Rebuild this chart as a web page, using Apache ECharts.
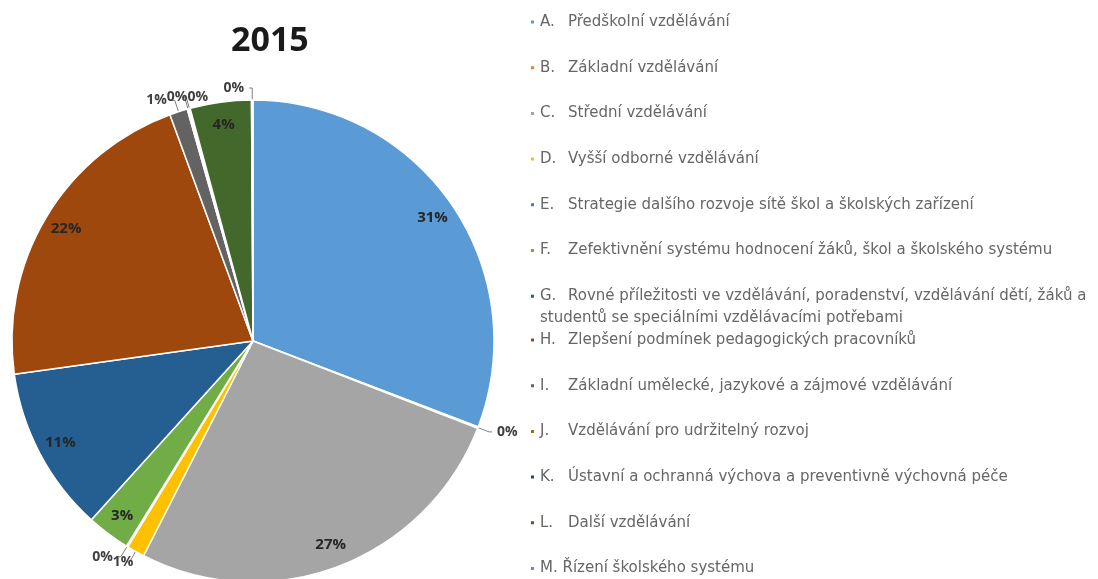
<!DOCTYPE html>
<html>
<head>
<meta charset="utf-8">
<script src="https://cdn.jsdelivr.net/npm/echarts@6/dist/echarts.min.js"></script>
<style>
  html, body { margin: 0; background: #fff; }
  #chart { width: 1098px; height: 579px; }
</style>
</head>
<body>
<div id="chart"></div>
<script>
// data (share of budget, %)
var letters = ['A.', 'B.', 'C.', 'D.', 'E.', 'F.', 'G.', 'H.', 'I.', 'J.', 'K.', 'L.', 'M.'];
var names = [
  'Předškolní vzdělávání',
  'Základní vzdělávání',
  'Střední vzdělávání',
  'Vyšší odborné vzdělávání',
  'Strategie dalšího rozvoje sítě škol a školských zařízení',
  'Zefektivnění systému hodnocení žáků, škol a školského systému',
  'Rovné příležitosti ve vzdělávání, poradenství, vzdělávání dětí, žáků a\nstudentů se speciálními vzdělávacími potřebami',
  'Zlepšení podmínek pedagogických pracovníků',
  'Základní umělecké, jazykové a zájmové vzdělávání',
  'Vzdělávání pro udržitelný rozvoj',
  'Ústavní a ochranná výchova a preventivně výchovná péče',
  'Další vzdělávání',
  'Řízení školského systému'
];
var values = [30.8, 0.1, 26.6, 1.2, 0.1, 2.9, 11.1, 21.6, 1.2, 0.1, 0.1, 4.1, 0.1];
var colors = ['#5b9bd5', '#ed7d31', '#a5a5a5', '#ffc000', '#4472c4', '#70ad47',
              '#255e91', '#9e480e', '#636363', '#997300', '#264478', '#43682b', '#698ed0'];

var keys = letters.map(function (l, i) { return l + ' ' + names[i]; });
var pct = function (v) { return Math.round(v) + '%'; };

var mainData = values.map(function (v, i) {
  var small = v < 2;
  return {
    name: keys[i],
    value: v,
    itemStyle: { color: colors[i] },
    label: { show: small },
    labelLine: { show: small }
  };
});
var innerLabelData = values.map(function (v, i) {
  return { name: keys[i], value: v, label: { show: v >= 2 } };
});

function legendText(key) {
  var letter = key.split(' ')[0];
  var rest = key.slice(letter.length + 1).split('\n');
  if (letter === 'M.') return '{t|M. ' + rest[0] + '}';
  var s = '{k|' + letter + '}{t|' + rest[0] + '}';
  for (var i = 1; i < rest.length; i++) s += '\n{t|' + rest[i] + '}';
  return s;
}

var legendFont = 'DejaVu Sans';
var lh = 22;
var legendTextStyle = {
  color: '#666',
  fontFamily: legendFont,
  fontSize: 15,
  lineHeight: lh,
  rich: {
    k: { width: 28, fontSize: 15, fontFamily: legendFont, color: '#666', lineHeight: lh },
    t: { fontSize: 15, fontFamily: legendFont, color: '#666', lineHeight: lh }
  }
};
function legendItems(from, to) {
  return keys.slice(from, to).map(function (k, j) {
    var item = { name: k, itemStyle: { color: colors[from + j] } };
    // the wrapped item keeps a one-line box so the next rows stay evenly spaced
    if (k.indexOf('\n') >= 0) item.textStyle = { height: lh };
    return item;
  });
}

var chart = echarts.init(document.getElementById('chart'));
chart.setOption({
  animation: false,
  title: {
    text: '2015',
    left: 231,
    top: 24,
    padding: 0,
    textStyle: { fontFamily: 'Open Sans', fontWeight: 'bold', fontSize: 34, color: '#1a1a1a' }
  },
  legend: [
    {
      orient: 'vertical', left: 529, top: 11, height: 450, padding: 0,
      icon: 'rect', itemWidth: 5, itemHeight: 5, itemGap: 23.7,
      selectedMode: false,
      data: legendItems(0, 7),
      formatter: legendText,
      textStyle: legendTextStyle
    },
    {
      orient: 'vertical', left: 529, top: 329, height: 300, padding: 0,
      icon: 'rect', itemWidth: 5, itemHeight: 5, itemGap: 23.7,
      selectedMode: false,
      data: legendItems(7, 13),
      formatter: legendText,
      textStyle: legendTextStyle
    }
  ],
  series: [
    {
      type: 'pie',
      center: [253, 341],
      radius: 241,
      startAngle: 90,
      clockwise: true,
      avoidLabelOverlap: false,
      data: mainData,
      itemStyle: { borderColor: '#fff', borderWidth: 1.5 },
      label: {
        show: false,
        position: 'outside',
        formatter: function (p) { return pct(p.value); },
        fontFamily: 'Open Sans', fontWeight: 'bold', fontSize: 14, color: '#404040'
      },
      labelLine: { show: false, length: 12, length2: 3, lineStyle: { color: '#7f7f7f', width: 1 } },
      labelLayout: { moveOverlap: 'shiftX', hideOverlap: false },
      emphasis: { disabled: true }
    },
    {
      type: 'pie',
      center: [253, 341],
      radius: [190, 240],
      startAngle: 90,
      clockwise: true,
      silent: true,
      data: innerLabelData,
      itemStyle: { color: 'rgba(0,0,0,0)' },
      label: {
        show: false,
        position: 'inside',
        formatter: function (p) { return pct(p.value); },
        fontFamily: 'Open Sans', fontWeight: 'bold', fontSize: 15, color: '#262626'
      },
      labelLine: { show: false },
      emphasis: { disabled: true }
    }
  ]
});
</script>
</body>
</html>
